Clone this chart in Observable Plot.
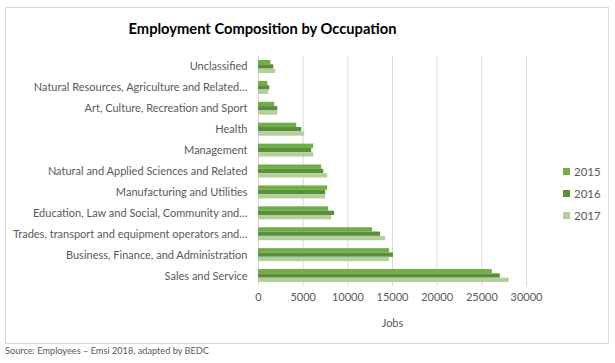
<!DOCTYPE html>
<html><head><meta charset="utf-8">
<script src="https://cdn.jsdelivr.net/npm/d3@7"></script>
<script src="https://cdn.jsdelivr.net/npm/@observablehq/plot@0.6"></script>
<style>
body{margin:0;background:#fff;font-family:Lato,"Liberation Sans",sans-serif;}
#wrap{position:relative;width:615px;height:363px;overflow:hidden;}
#frame{position:absolute;left:5px;top:7px;width:604px;height:337px;border:1px solid #d9d9d9;box-sizing:border-box;}
#title{position:absolute;left:0;width:525px;top:19px;text-align:center;font-weight:bold;font-size:14.7px;color:#000;}
#chart{position:absolute;left:0;top:0;width:615px;height:344px;}
#legend{position:absolute;left:563px;top:160px;font-size:11.5px;color:#595959;}
#legend div{height:22px;display:flex;align-items:center;}
#legend span.sw{display:inline-block;width:7px;height:7px;margin-right:4px;}
#foot{position:absolute;left:5px;top:345px;font-size:9.2px;color:#595959;}
</style></head>
<body><div id="wrap"><div id="frame"></div><div id="title">Employment Composition by Occupation</div><div id="chart"></div><div id="legend"></div><div id="foot">Source: Employees – Emsi 2018, adapted by BEDC</div></div>
<script>
const categories = [
  "Unclassified",
  "Natural Resources, Agriculture and Related…",
  "Art, Culture, Recreation and Sport",
  "Health",
  "Management",
  "Natural and Applied Sciences and Related",
  "Manufacturing and Utilities",
  "Education, Law and Social, Community and…",
  "Trades, transport and equipment operators and…",
  "Business, Finance, and Administration",
  "Sales and Service"
];
const years = ["2015", "2016", "2017"];
const jobs2015 = [1380, 1040, 1820, 4280, 6180, 7070, 7740, 7850, 12770, 14670, 26180];
const jobs2016 = [1710, 1260, 2160, 4840, 5960, 7300, 7520, 8520, 13660, 15120, 27070];
const jobs2017 = [1930, 1150, 2160, 5170, 6180, 7740, 7520, 8190, 14220, 14670, 28080];
const xTicks = [0, 5000, 10000, 15000, 20000, 25000, 30000];
const colors = ["#70ad47", "#598f3a", "#b3d09c"];

const series = [jobs2015, jobs2016, jobs2017];
const rows = [];
categories.forEach((c, i) => years.forEach((y, j) => rows.push({category: c, year: y, value: series[j][i]})));

const W = 615, H = 344, MT = 56, MB = 58, ML = 258, MR = 89;
const padIn = 0.38, padOut = 0.19;
const step = (H - MT - MB) / (categories.length - padIn + 2 * padOut);
const bw = step * (1 - padIn);
const sub = bw / years.length;

const chart = Plot.plot({
  width: W,
  height: H,
  marginTop: MT,
  marginBottom: MB,
  marginLeft: ML,
  marginRight: MR,
  style: {fontFamily: "Lato, 'Liberation Sans', sans-serif", fontSize: "11px", color: "#595959", background: "transparent"},
  x: {domain: [0, 30000], ticks: xTicks, tickSize: 0, tickPadding: 7, label: "Jobs", labelAnchor: "center", labelOffset: 40, labelArrow: "none", tickFormat: d => String(d)},
  y: {domain: categories, paddingInner: padIn, paddingOuter: padOut, round: false, tickSize: 0, tickPadding: 11, label: null},
  color: {domain: years, range: colors},
  marks: [
    Plot.gridX(xTicks, {stroke: "#d9d9d9", strokeOpacity: 1, strokeWidth: 1}),
    ...years.map((yr, j) => Plot.barX(rows.filter(d => d.year === yr), {
      x: "value", y: "category", fill: "year",
      insetTop: j * sub, insetBottom: (years.length - 1 - j) * sub
    }))
  ]
});
document.getElementById("chart").appendChild(chart);

const legend = document.getElementById("legend");
years.forEach((y, j) => {
  const d = document.createElement("div");
  d.innerHTML = `<span class="sw" style="background:${colors[j]}"></span>${y}`;
  legend.appendChild(d);
});
</script>
</body></html>
